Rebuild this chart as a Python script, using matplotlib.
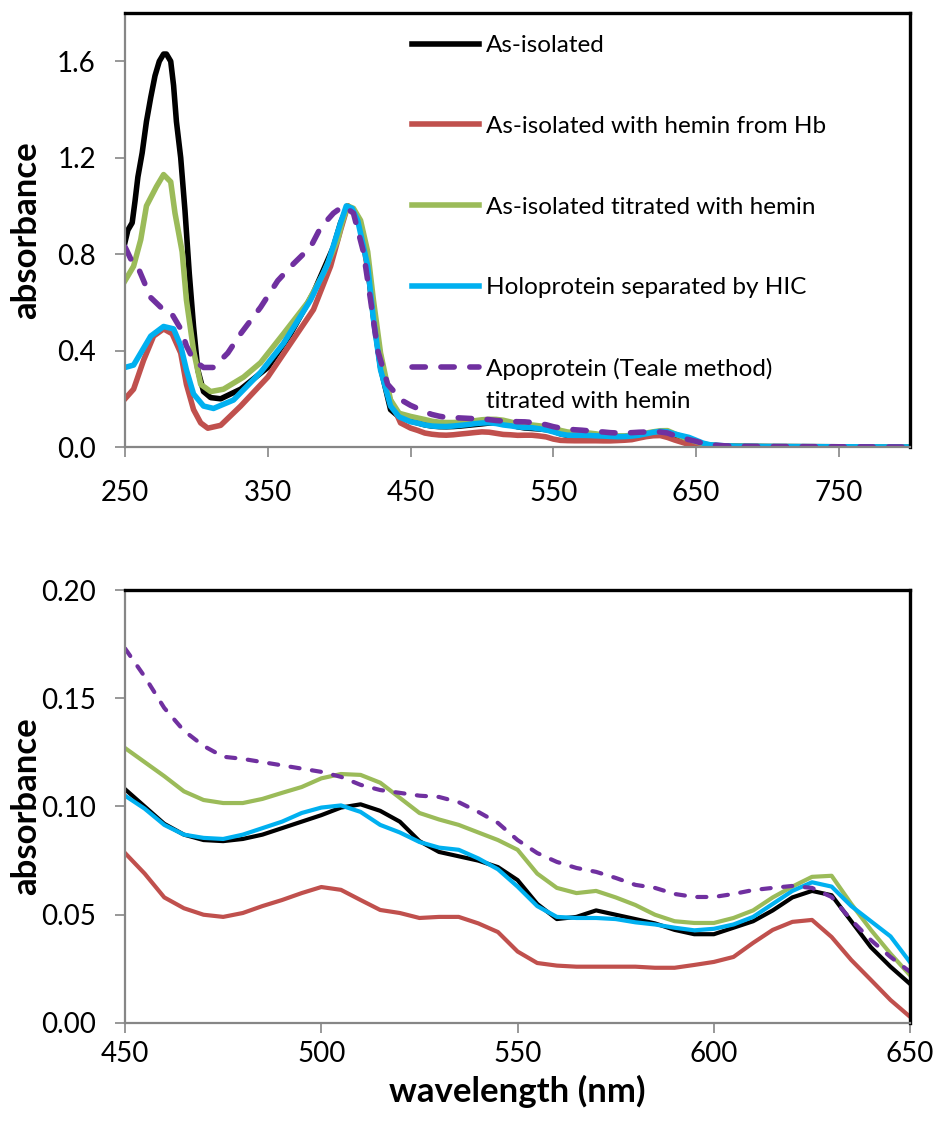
import numpy as np
import matplotlib
matplotlib.use("Agg")
import matplotlib.pyplot as plt

plt.rcParams['font.family'] = ['Lato', 'DejaVu Sans']

# Soret / UV region (250-445 nm), read per trace
uv_wl_asiso = [250, 252, 255, 257, 259, 262, 265, 268, 271, 274, 277, 279, 282, 284, 286, 289,
               292, 295, 298, 301, 305, 310, 317, 331, 350, 366, 382, 396, 401, 406, 410,
               415, 420, 424, 429, 436, 442]
uv_abs_asiso = [0.85, 0.90, 0.93, 1.02, 1.12, 1.22, 1.35, 1.45, 1.54, 1.60, 1.63, 1.63, 1.60, 1.50,
                1.35, 1.20, 0.98, 0.72, 0.50, 0.32, 0.23, 0.205, 0.20, 0.24, 0.33, 0.47, 0.64,
                0.83, 0.93, 1.0, 0.98, 0.92, 0.75, 0.54, 0.33, 0.155, 0.125]

uv_wl_hb = [250, 256, 263, 270, 277, 283, 289, 293, 298, 303, 308, 317, 331, 350, 366, 382,
            394, 401, 406, 410, 415, 422, 427, 434, 443]
uv_abs_hb = [0.20, 0.24, 0.36, 0.46, 0.49, 0.47, 0.39, 0.26, 0.155, 0.10, 0.078, 0.09, 0.17,
             0.29, 0.43, 0.57, 0.75, 0.90, 1.0, 0.98, 0.92, 0.66, 0.44, 0.22, 0.10]

uv_wl_titr = [250, 256, 261, 265, 272, 277, 282, 285, 290, 293, 298, 303, 310, 319, 333, 345,
              361, 378, 389, 399, 402, 406, 410, 415, 420, 424, 429, 436, 442]
uv_abs_titr = [0.69, 0.75, 0.86, 1.0, 1.08, 1.13, 1.10, 0.97, 0.81, 0.61, 0.40, 0.26, 0.23, 0.24,
               0.29, 0.35, 0.47, 0.60, 0.72, 0.86, 0.93, 1.0, 0.99, 0.94, 0.81, 0.61, 0.39,
               0.195, 0.14]

uv_wl_hic = [250, 256, 261, 268, 277, 284, 289, 293, 298, 305, 312, 326, 345, 361, 380, 392,
             401, 405, 409, 413, 420, 424, 429, 436, 442]
uv_abs_hic = [0.33, 0.34, 0.39, 0.46, 0.50, 0.49, 0.42, 0.32, 0.22, 0.17, 0.16, 0.195, 0.31,
              0.43, 0.61, 0.76, 0.93, 1.0, 0.99, 0.94, 0.75, 0.53, 0.32, 0.17, 0.125]

uv_wl_apo = [250, 254, 258, 263, 268, 275, 282, 289, 293, 298, 305, 312, 322, 331, 345, 357,
             368, 380, 387, 396, 403, 410, 417, 422, 427, 434, 440, 445]
uv_abs_apo = [0.83, 0.78, 0.76, 0.69, 0.62, 0.58, 0.56, 0.49, 0.42, 0.36, 0.33, 0.33, 0.39,
              0.47, 0.58, 0.69, 0.76, 0.83, 0.91, 0.97, 1.0, 0.97, 0.81, 0.61, 0.40, 0.26,
              0.22, 0.19]

# Q-band region (450-650 nm), every 5 nm
vis_wl = list(range(450, 651, 5))
vis_asiso = [0.108, 0.100, 0.092, 0.087, 0.0845, 0.084, 0.085, 0.087, 0.090, 0.093, 0.096,
             0.0995, 0.101, 0.098, 0.093, 0.084, 0.079, 0.077, 0.075, 0.072, 0.066, 0.055,
             0.048, 0.049, 0.052, 0.050, 0.048, 0.046, 0.043, 0.041, 0.041, 0.044, 0.047,
             0.052, 0.058, 0.061, 0.059, 0.047, 0.035, 0.026, 0.018]
vis_hb = [0.0785, 0.069, 0.058, 0.053, 0.050, 0.049, 0.0508, 0.054, 0.0568, 0.060, 0.0628,
          0.0615, 0.0568, 0.0522, 0.0508, 0.0485, 0.049, 0.049, 0.046, 0.042, 0.033, 0.0277,
          0.0265, 0.026, 0.026, 0.026, 0.026, 0.0255, 0.0255, 0.0268, 0.0282, 0.0305, 0.037,
          0.043, 0.0467, 0.0476, 0.0397, 0.0291, 0.0199, 0.0106, 0.0028]
vis_titr = [0.127, 0.1205, 0.114, 0.107, 0.103, 0.1016, 0.1016, 0.1035, 0.1063, 0.109, 0.113,
            0.115, 0.1146, 0.111, 0.104, 0.097, 0.094, 0.0915, 0.088, 0.0845, 0.080, 0.069,
            0.0624, 0.060, 0.061, 0.058, 0.0545, 0.050, 0.047, 0.0462, 0.0462, 0.0485, 0.052,
            0.058, 0.063, 0.0675, 0.068, 0.055, 0.043, 0.032, 0.022]
vis_hic = [0.105, 0.099, 0.0915, 0.087, 0.0855, 0.085, 0.087, 0.090, 0.093, 0.097, 0.0995,
           0.1005, 0.0975, 0.0915, 0.088, 0.0836, 0.081, 0.080, 0.076, 0.071, 0.063, 0.054,
           0.049, 0.0485, 0.0485, 0.048, 0.0465, 0.0455, 0.044, 0.0428, 0.0435, 0.0455, 0.049,
           0.055, 0.061, 0.065, 0.063, 0.054, 0.047, 0.040, 0.028]
vis_apo = [0.173, 0.160, 0.1455, 0.135, 0.128, 0.123, 0.122, 0.1205, 0.119, 0.1175, 0.116,
           0.1137, 0.110, 0.1076, 0.1063, 0.105, 0.1044, 0.102, 0.0975, 0.0924, 0.0845, 0.0785,
           0.0744, 0.0716, 0.0698, 0.067, 0.0638, 0.0624, 0.0596, 0.0582, 0.0582, 0.0596,
           0.0614, 0.0624, 0.0633, 0.0624, 0.0582, 0.0476, 0.0383, 0.0305, 0.0236]

# red tail (655-800 nm)
tail_wl = [655, 660, 670, 680, 700, 750, 800]
tail_asiso = [0.011, 0.007, 0.004, 0.003, 0.002, 0.001, 0.0]
tail_hb = [0.001, 0.0, 0.0, 0.0, 0.0, 0.0, 0.0]
tail_titr = [0.013, 0.008, 0.004, 0.003, 0.002, 0.001, 0.0]
tail_hic = [0.016, 0.009, 0.005, 0.003, 0.002, 0.001, 0.0]
tail_apo = [0.015, 0.009, 0.005, 0.003, 0.002, 0.001, 0.0]

labels = ["As-isolated",
          "As-isolated with hemin from Hb",
          "As-isolated titrated with hemin",
          "Holoprotein separated by HIC",
          "Apoprotein (Teale method)"]
apo_label_line2 = "titrated with hemin"
colors = ["#000000", "#C0504D", "#9BBB59", "#00B0F0", "#7030A0"]

series = [
    (uv_wl_asiso, uv_abs_asiso, vis_asiso, tail_asiso),
    (uv_wl_hb, uv_abs_hb, vis_hb, tail_hb),
    (uv_wl_titr, uv_abs_titr, vis_titr, tail_titr),
    (uv_wl_hic, uv_abs_hic, vis_hic, tail_hic),
    (uv_wl_apo, uv_abs_apo, vis_apo, tail_apo),
]

fig = plt.figure(figsize=(9.38, 11.26), dpi=100)
ax1 = fig.add_axes([0.1333, 0.603, 0.837, 0.3854])
ax2 = fig.add_axes([0.1333, 0.0915, 0.837, 0.3845])


def style_axes(ax):
    for side in ['left', 'bottom']:
        ax.spines[side].set_color('#868686')
        ax.spines[side].set_linewidth(1.6)
    for side in ['top', 'right']:
        ax.spines[side].set_color('black')
        ax.spines[side].set_linewidth(2.4)
    ax.tick_params(direction='out', length=7, width=1.2, color='#868686',
                   labelsize=20, labelcolor='black')
    ax.tick_params(axis='y', pad=14)


for i, (uw, ua, va, ta) in enumerate(series):
    wl = np.concatenate([uw, vis_wl, tail_wl])
    ab = np.concatenate([ua, va, ta])
    if i == 4:
        ax1.plot(wl, ab, color=colors[i], lw=4, ls=(0, (2.4, 2.8)),
                 dash_capstyle='round', label=labels[i])
        ax2.plot(vis_wl, va, color=colors[i], lw=3, ls=(0, (2.2, 3.0)),
                 dash_capstyle='round')
    else:
        ax1.plot(wl, ab, color=colors[i], lw=4, label=labels[i])
        ax2.plot(vis_wl, va, color=colors[i], lw=3)

ax1.set_xlim(250, 800)
ax1.set_ylim(0, 1.8)
ax1.set_xticks([250, 350, 450, 550, 650, 750])
ax1.set_yticks([0.0, 0.4, 0.8, 1.2, 1.6])
ax1.set_yticklabels(["0.0", "0.4", "0.8", "1.2", "1.6"])
style_axes(ax1)
ax1.tick_params(axis='x', pad=17)
ax1.set_ylabel("absorbance", fontsize=25, fontweight='bold')
ax1.yaxis.set_label_coords(-0.105, 0.5)

leg = ax1.legend(loc='upper left', bbox_to_anchor=(0.338, 0.999), frameon=False,
                 fontsize=17.5, handlelength=2.75, handletextpad=0.3, labelspacing=2.45)
# second line of the last entry sits under the first, handle stays on line one
ax1.annotate(apo_label_line2, xy=(0, 0), xycoords=leg.get_texts()[4],
             xytext=(0, -23), textcoords='offset points', va='bottom', ha='left',
             fontsize=17.5, zorder=10)

ax2.set_xlim(450, 650)
ax2.set_ylim(0, 0.2)
ax2.set_xticks([450, 500, 550, 600, 650])
ax2.set_yticks([0.0, 0.05, 0.10, 0.15, 0.20])
ax2.set_yticklabels(["0.00", "0.05", "0.10", "0.15", "0.20"])
style_axes(ax2)
ax2.tick_params(axis='x', pad=6)
ax2.set_ylabel("absorbance", fontsize=25, fontweight='bold')
ax2.yaxis.set_label_coords(-0.105, 0.5)
ax2.set_xlabel("wavelength (nm)", fontsize=25, fontweight='bold', labelpad=6)

fig.savefig("out.png", dpi=100)
